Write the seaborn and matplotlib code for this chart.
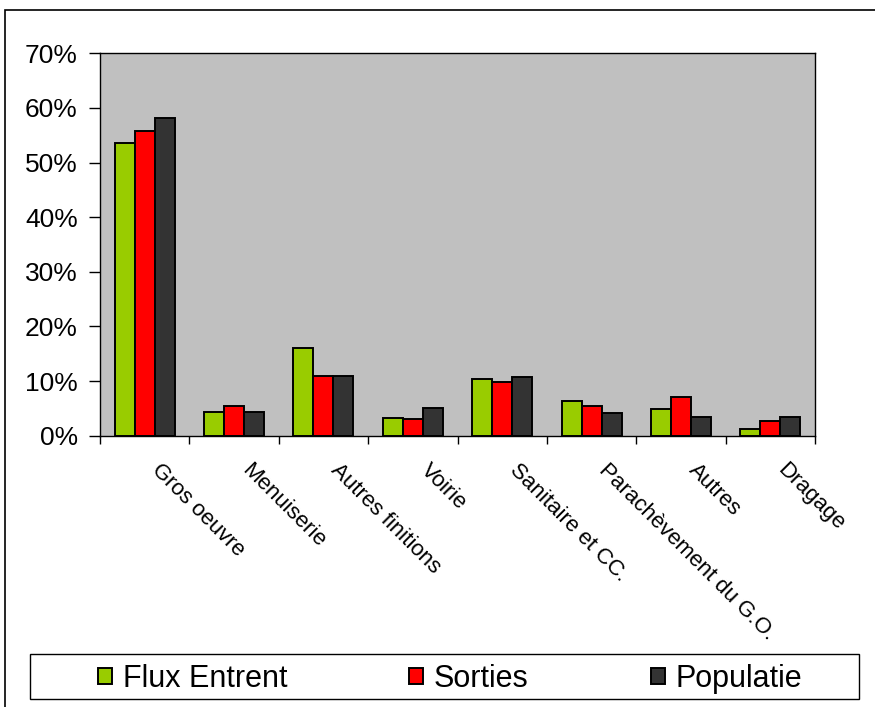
import matplotlib
matplotlib.use("Agg")
import matplotlib.pyplot as plt
import matplotlib.transforms as mtransforms
from matplotlib.patches import Rectangle
from matplotlib.ticker import PercentFormatter
import numpy as np
import pandas as pd
import seaborn as sns

# Share of each construction activity, in percent
categories = ["Gros oeuvre", "Menuiserie", "Autres finitions", "Voirie",
              "Sanitaire et CC.", "Parachèvement du G.O.", "Autres", "Dragage"]
flux_entrent = [53.5, 4.4, 16.1, 3.3, 10.3, 6.3, 4.8, 1.2]
sorties = [55.7, 5.5, 10.9, 3.0, 9.9, 5.5, 7.0, 2.6]
populatie = [58.2, 4.4, 10.9, 5.1, 10.7, 4.1, 3.4, 3.4]
series_names = ["Flux Entrent", "Sorties", "Populatie"]
series_colors = ["#99CC00", "#FF0000", "#333333"]
y_ticks = [0, 10, 20, 30, 40, 50, 60, 70]

df = pd.DataFrame({
    "categorie": categories * 3,
    "part": flux_entrent + sorties + populatie,
    "serie": [s for s in series_names for _ in categories],
})

sns.set_style("white")
plt.rcParams["font.family"] = ["Liberation Sans", "DejaVu Sans"]
plt.rcParams["text.color"] = "black"
plt.rcParams["xtick.color"] = "black"
plt.rcParams["ytick.color"] = "black"
plt.rcParams["xtick.labelcolor"] = "black"
plt.rcParams["ytick.labelcolor"] = "black"

W, H = 875, 707
fig = plt.figure(figsize=(W / 100, H / 100), dpi=100)
ax = fig.add_axes([100 / W, 1 - 435.7 / H, 715 / W, 382.4 / H])

sns.barplot(data=df, x="categorie", y="part", hue="serie",
            order=categories, hue_order=series_names,
            palette=series_colors, saturation=1, width=0.67, gap=0,
            edgecolor="black", linewidth=1.4, errorbar=None, ax=ax)

ax.set_facecolor("#C0C0C0")
ax.set_xlim(-0.5, len(categories) - 0.5)
ax.set_ylim(0, 70)
ax.set_xlabel("")
ax.set_ylabel("")

# y axis
ax.set_yticks(y_ticks)
ax.yaxis.set_major_formatter(PercentFormatter(100, decimals=0))
ax.tick_params(axis="y", direction="out", length=8, width=1, labelsize=19,
               pad=8, left=True, colors="black", labelcolor="black")

# x axis: ticks between categories, labels at category centres
ax.set_xticks(np.arange(-0.5, len(categories), 1.0))
ax.set_xticklabels([])
ax.set_xticks(np.arange(len(categories)), categories, minor=True)
ax.tick_params(axis="x", which="major", direction="out", length=6, width=1,
               bottom=True, colors="black")
ax.tick_params(axis="x", which="minor", length=0, labelsize=16, pad=17,
               labelcolor="black")
shift = mtransforms.ScaledTranslation(0.18, 0, fig.dpi_scale_trans)
for lab in ax.get_xticklabels(minor=True):
    lab.set_rotation(-45)
    lab.set_rotation_mode("anchor")
    lab.set_ha("left")
    lab.set_va("top")
    lab.set_color("black")
    lab.set_transform(lab.get_transform() + shift)

for sp in ax.spines.values():
    sp.set_visible(True)
    sp.set_color("black")
    sp.set_linewidth(1)

# legend in its own framed box below the axes
handles, labels = ax.get_legend_handles_labels()
if ax.get_legend() is not None:
    ax.get_legend().remove()
x0, x1, y0, y1 = 30, 859, 654, 699
fig.add_artist(Rectangle((x0 / W, 1 - y1 / H), (x1 - x0) / W, (y1 - y0) / H,
                         transform=fig.transFigure, fill=False,
                         edgecolor="black", linewidth=1))
leg = fig.legend(handles, labels, loc="center",
                 bbox_to_anchor=(450 / W, 1 - 679 / H),
                 ncol=3, frameon=False, fontsize=22,
                 handlelength=0.45, handleheight=0.45, handletextpad=0.35,
                 columnspacing=4.0, borderpad=0)
for t in leg.get_texts():
    t.set_color("black")

# outer chart border
fig.add_artist(Rectangle((5 / W, -0.05), 1.2, 1 - 10 / H + 0.05,
                         transform=fig.transFigure, fill=False,
                         edgecolor="black", linewidth=1.2))

fig.savefig("out.png", dpi=100)
